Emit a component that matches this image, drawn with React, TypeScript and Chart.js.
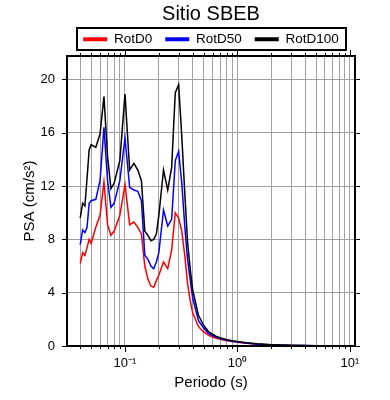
import React, { useEffect, useRef } from 'react';
import { Chart, registerables } from 'chart.js';

Chart.register(...registerables);

const periods = [0.04, 0.042, 0.044, 0.046, 0.048, 0.05, 0.055, 0.06, 0.065, 0.07, 0.075, 0.08, 0.09, 0.1, 0.11, 0.12, 0.13, 0.14, 0.15, 0.16, 0.17, 0.18, 0.19, 0.2, 0.22, 0.24, 0.26, 0.28, 0.3, 0.32, 0.34, 0.36, 0.38, 0.4, 0.45, 0.5, 0.55, 0.6, 0.65, 0.7, 0.75, 0.8, 0.9, 1, 1.2, 1.5, 2, 2.5, 3, 4, 5, 7.5, 10];

const rotD0 = [6.2, 7.0, 6.8, 7.4, 8.0, 7.7, 8.9, 9.8, 12.3, 9.1, 8.3, 8.6, 9.8, 12.1, 9.1, 9.3, 8.9, 8.4, 6.0, 5.0, 4.5, 4.4, 4.9, 5.3, 6.3, 5.8, 7.2, 10.0, 9.6, 8.6, 6.8, 4.7, 3.4, 2.5, 1.45, 1.05, 0.82, 0.68, 0.58, 0.5, 0.44, 0.4, 0.33, 0.28, 0.2, 0.13, 0.08, 0.055, 0.04, 0.025, 0.015, 0.01, 0.005];

const rotD50 = [7.6, 8.7, 8.5, 8.9, 10.7, 10.9, 11.0, 12.4, 16.4, 12.4, 10.4, 10.7, 12.4, 15.6, 11.9, 11.7, 11.6, 10.9, 6.8, 6.5, 6.0, 5.8, 6.3, 7.0, 10.2, 9.0, 9.5, 13.9, 14.6, 12.2, 9.0, 6.5, 5.0, 3.6, 1.9, 1.35, 0.95, 0.78, 0.65, 0.56, 0.49, 0.44, 0.36, 0.3, 0.22, 0.14, 0.09, 0.06, 0.045, 0.03, 0.02, 0.01, 0.01];

const rotD100 = [9.6, 10.7, 10.5, 12.6, 14.7, 15.1, 14.9, 15.9, 18.7, 14.2, 11.8, 12.2, 13.9, 18.9, 13.2, 13.7, 13.2, 12.4, 8.6, 8.3, 7.9, 8.0, 8.4, 9.8, 13.2, 11.7, 13.4, 19.0, 19.6, 15.7, 11.5, 7.8, 5.8, 4.2, 2.3, 1.55, 1.1, 0.88, 0.72, 0.62, 0.54, 0.48, 0.4, 0.34, 0.25, 0.16, 0.1, 0.07, 0.05, 0.03, 0.02, 0.01, 0.01];

const seriesLabels = ['RotD0', 'RotD50', 'RotD100'];
const seriesColors = ['#ff0000', '#0000ff', '#000000'];

const xTicks = [0.04, 0.05, 0.06, 0.07, 0.08, 0.09, 0.1, 0.2, 0.3, 0.4, 0.5, 0.6, 0.7, 0.8, 0.9, 1, 2, 3, 4, 5, 6, 7, 8, 9, 10];
const xMajor = [0.1, 1, 10];
const xMajorLabels = ['10⁻¹', '10⁰', '10¹'];
const yTicks = [0, 4, 8, 12, 16, 20];

export default function App() {
  const ref = useRef<HTMLCanvasElement>(null);

  useEffect(() => {
    document.body.style.margin = '0';
    Chart.defaults.font.family = '"Liberation Sans", Arial, Helvetica, sans-serif';
    Chart.defaults.color = '#000';

    const framePlugin = {
      id: 'frameTicks',
      afterDraw(chart: any) {
        const { ctx, chartArea } = chart;
        const { left, right, top, bottom } = chartArea;
        const xs = chart.scales.x;
        const ys = chart.scales.y;
        ctx.save();
        ctx.strokeStyle = '#000';
        ctx.lineWidth = 1;
        ctx.beginPath();
        xs.ticks.forEach((t: any) => {
          const px = Math.round(xs.getPixelForValue(t.value)) + 0.5;
          const len = xMajor.includes(t.value) ? 6 : 3;
          ctx.moveTo(px, top);
          ctx.lineTo(px, top - len);
          ctx.moveTo(px, bottom);
          ctx.lineTo(px, bottom + len);
        });
        ys.ticks.forEach((t: any) => {
          const py = Math.round(ys.getPixelForValue(t.value)) + 0.5;
          ctx.moveTo(left, py);
          ctx.lineTo(left - 5, py);
          ctx.moveTo(right, py);
          ctx.lineTo(right + 5, py);
        });
        ctx.stroke();
        ctx.lineWidth = 2;
        ctx.strokeRect(left, top, right - left, bottom - top);

        const hb = chart.legend && chart.legend.legendHitBoxes;
        if (hb && hb.length) {
          const first = hb[0];
          const last = hb[hb.length - 1];
          const l = Math.round(first.left - 6);
          const r = Math.round(last.left + last.width + 7);
          const tp = Math.round(first.top - 4.5);
          const bt = Math.round(first.top + first.height + 3.5);
          ctx.strokeRect(l, tp, r - l, bt - tp);
        }
        ctx.restore();
      },
    };

    const series = [rotD0, rotD50, rotD100];
    const chart = new Chart(ref.current as HTMLCanvasElement, {
      type: 'line',
      data: {
        datasets: series.map((s, k) => ({
          label: seriesLabels[k],
          data: periods.map((p, i) => ({ x: p, y: s[i] })),
          borderColor: seriesColors[k],
          backgroundColor: seriesColors[k],
          borderWidth: 1.5,
          pointRadius: 0,
          tension: 0,
          fill: false,
          order: 2 - k,
        })),
      },
      options: {
        animation: false,
        responsive: false,
        maintainAspectRatio: false,
        layout: { padding: { top: 1, right: 35, bottom: 0, left: 0 } },
        plugins: {
          title: {
            display: true,
            text: 'Sitio SBEB',
            fullSize: false,
            color: '#000',
            font: { size: 20, weight: 'normal', lineHeight: 0.1 },
            padding: { top: 12, bottom: 4.5 },
          },
          legend: {
            display: true,
            fullSize: false,
            labels: {
              boxWidth: 24,
              boxHeight: 4,
              padding: 13,
              color: '#000',
              font: { size: 13.5 },
              sort: (a: any, b: any) => a.datasetIndex - b.datasetIndex,
              generateLabels: (c: any) =>
                (Chart.defaults.plugins.legend.labels as any)
                  .generateLabels(c)
                  .map((l: any) => ({ ...l, lineWidth: 0 })),
            },
          },
          tooltip: { enabled: false },
        },
        scales: {
          x: {
            type: 'logarithmic',
            min: 0.0305,
            max: 11.1,
            afterFit: (s: any) => {
              s.height = 54;
            },
            afterBuildTicks: (s: any) => {
              s.ticks = xTicks.map((v) => ({ value: v }));
            },
            grid: { color: '#a0a0a0', lineWidth: 1, drawTicks: false },
            border: { display: false },
            ticks: {
              autoSkip: false,
              maxRotation: 0,
              minRotation: 0,
              padding: 10,
              color: '#000',
              font: { size: 13 },
              callback: (v: any) => {
                const i = xMajor.indexOf(Number(v));
                return i >= 0 ? xMajorLabels[i] : '';
              },
            },
            title: {
              display: true,
              text: 'Periodo (s)',
              color: '#000',
              font: { size: 15 },
              padding: { top: 0, bottom: 8.5 },
            },
          },
          y: {
            type: 'linear',
            min: 0,
            max: 21.75,
            afterFit: (s: any) => {
              s.width = 67;
            },
            afterBuildTicks: (s: any) => {
              s.ticks = yTicks.map((v) => ({ value: v }));
            },
            grid: { color: '#a0a0a0', lineWidth: 1, drawTicks: false },
            border: { display: false },
            ticks: {
              padding: 12,
              color: '#000',
              font: { size: 13 },
              callback: (v: any) => String(v),
            },
            title: {
              display: true,
              text: 'PSA (cm/s²)',
              color: '#000',
              font: { size: 15 },
              padding: { top: 21, bottom: 0 },
            },
          },
        },
      } as any,
      plugins: [framePlugin],
    });

    return () => chart.destroy();
  }, []);

  return (
    <div style={{ width: 390, height: 400 }}>
      <canvas ref={ref} width={390} height={400} style={{ display: 'block' }} />
    </div>
  );
}
